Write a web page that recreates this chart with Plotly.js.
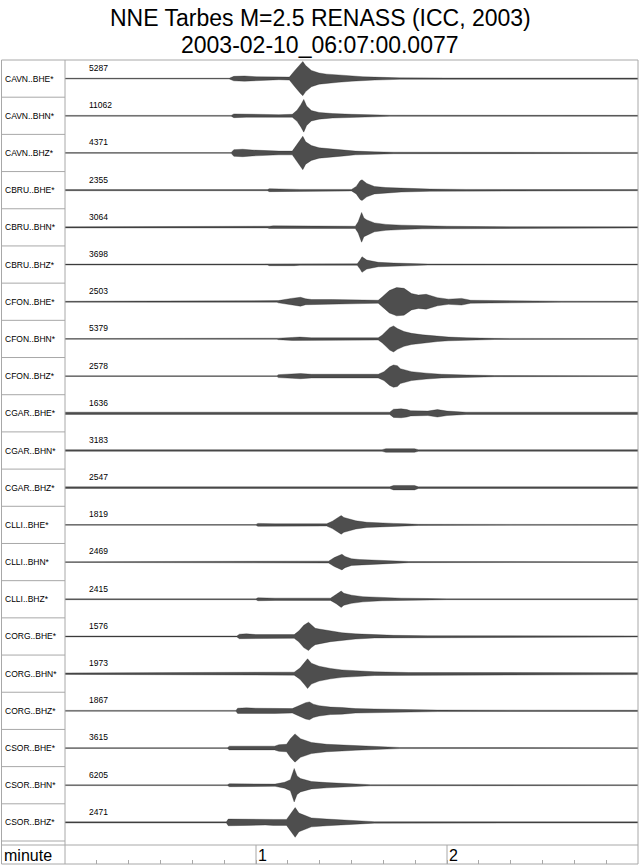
<!DOCTYPE html>
<html>
<head>
<meta charset="utf-8">
<script src="https://cdn.plot.ly/plotly-3.0.1.min.js"></script>
<style>html,body{margin:0;padding:0;background:#fff;}#chart{width:640px;height:866px;}</style>
</head>
<body>
<div id="chart"></div>
<script>
// ---------- data ----------
const titleLine1 = "NNE Tarbes M=2.5 RENASS (ICC, 2003)";
const titleLine2 = "2003-02-10_06:07:00.0077";
const stations = ["CAVN","CAVN","CAVN","CBRU","CBRU","CBRU","CFON","CFON","CFON","CGAR","CGAR","CGAR","CLLI","CLLI","CLLI","CORG","CORG","CORG","CSOR","CSOR","CSOR"];
const channels = ["BHE","BHN","BHZ","BHE","BHN","BHZ","BHE","BHN","BHZ","BHE","BHN","BHZ","BHE","BHN","BHZ","BHE","BHN","BHZ","BHE","BHN","BHZ"];
const maxCounts = [5287,11062,4371,2355,3064,3698,2503,5379,2578,1636,3183,2547,1819,2469,2415,1576,1973,1867,3615,6205,2471];
const timeRange = [0, 3];               // minutes
const majorTicks = [1, 2];
const majorTickLabels = ["1", "2"];
const minorTickStepMin = 10 / 60;       // 10 s
const axisUnit = "minute";

// envelope half-amplitude, [time (min), amplitude (% of trace spacing)]
const CAVN_BHE = [[0,1],[0.86,1],[0.884,6],[0.94,7],[1.0,5],[1.06,5],[1.12,3],[1.175,4],[1.20,20],[1.233,40],[1.245,46],[1.26,35],[1.29,22],[1.33,15],[1.37,12],[1.43,10],[1.5,7],[1.56,5],[1.62,4],[1.75,2],[2.0,1.5],[3.0,1.5]];
const CAVN_BHN = [[0,1],[0.87,1],[0.884,5],[0.95,4],[1.05,4],[1.12,3],[1.19,4],[1.215,15],[1.235,30],[1.25,44],[1.265,26],[1.29,14],[1.33,9],[1.4,6],[1.5,4],[1.6,2.5],[1.7,1.5],[3.0,1.2]];
const CAVN_BHZ = [[0,1],[0.87,1],[0.884,9],[0.93,10],[0.98,8],[1.04,6],[1.12,5],[1.19,5],[1.21,20],[1.235,38],[1.245,45],[1.26,30],[1.29,20],[1.33,14],[1.39,11],[1.46,8],[1.52,5],[1.62,3],[1.72,2],[3.0,1.5]];
const CBRU_BHE = [[0,1.5],[1.06,1.5],[1.07,4],[1.2,3],[1.23,2],[1.5,2],[1.525,10],[1.545,25],[1.555,28],[1.58,18],[1.62,10],[1.68,7],[1.76,5],[1.91,3],[2.1,2],[3.0,1.5]];
const CBRU_BHN = [[0,1.5],[1.06,1.5],[1.07,3],[1.09,4],[1.2,4],[1.22,3],[1.52,3],[1.535,15],[1.553,40],[1.565,25],[1.58,20],[1.62,12],[1.68,8],[1.76,6],[1.87,4],[2.0,3],[2.2,2],[3.0,1.5]];
const CBRU_BHZ = [[0,1.2],[1.06,1.2],[1.07,3],[1.2,3],[1.23,2],[1.53,2],[1.545,12],[1.555,21],[1.58,12],[1.64,6],[1.72,4],[1.81,2.5],[1.9,1.5],[3.0,1.2]];
const CFON_BHE = [[0,1.2],[1.11,1.2],[1.117,3],[1.185,9],[1.233,12],[1.26,8],[1.291,6],[1.40,6],[1.55,5],[1.64,4],[1.659,12],[1.698,30],[1.736,38],[1.775,36],[1.814,22],[1.85,18],[1.891,20],[1.95,11],[2.008,7],[2.076,9],[2.124,4],[2.3,2.5],[2.6,1.5],[3.0,1.2]];
const CFON_BHN = [[0,1],[1.11,1],[1.117,2],[1.19,4],[1.23,5],[1.29,3],[1.64,3],[1.66,10],[1.68,20],[1.70,30],[1.72,35],[1.74,28],[1.775,20],[1.814,15],[1.872,11],[1.95,7],[2.008,5],[2.104,3],[2.25,1.5],[3.0,1]];
const CFON_BHZ = [[0,1],[1.11,1],[1.117,4],[1.19,6],[1.233,7],[1.29,5],[1.64,5],[1.67,12],[1.70,25],[1.72,30],[1.74,28],[1.756,20],[1.814,12],[1.891,8],[1.97,5],[2.104,3],[2.25,1.5],[3.0,1]];
const CGAR_BHE = [[0,3],[1.70,3],[1.72,11],[1.76,12],[1.79,10],[1.81,7],[1.90,6],[1.95,10],[2.0,6],[2.05,4],[2.1,3],[3.0,3]];
const CGAR_BHN = [[0,2.2],[1.66,2.2],[1.68,5],[1.83,5],[1.85,2.2],[3.0,2.2]];
const CGAR_BHZ = [[0,2.2],[1.70,2.2],[1.72,6],[1.83,6],[1.85,2.2],[3.0,2.2]];
const CLLI_BHE = [[0,1],[1.0,1],[1.01,4],[1.1,3],[1.37,3],[1.40,10],[1.43,20],[1.446,25],[1.46,20],[1.485,16],[1.523,11],[1.58,7],[1.64,5],[1.72,4],[1.78,3],[1.85,1.5],[3.0,1]];
const CLLI_BHN = [[0,1],[1.0,1],[1.01,3],[1.1,2.5],[1.38,2.5],[1.41,12],[1.436,18],[1.45,21],[1.466,15],[1.50,9],[1.54,7],[1.62,5],[1.72,3],[1.8,1.5],[3.0,1]];
const CLLI_BHZ = [[0,1.2],[1.0,1.2],[1.01,4],[1.1,3],[1.39,3],[1.42,12],[1.446,22],[1.46,16],[1.50,11],[1.56,7],[1.66,4],[1.76,3],[1.91,2],[2.0,1.2],[3.0,1.2]];
const CORG_BHE = [[0,1.2],[0.90,1.2],[0.913,6],[0.95,7],[1.0,5],[1.1,5],[1.2,5],[1.225,15],[1.25,30],[1.275,38],[1.29,30],[1.31,22],[1.33,20],[1.39,14],[1.45,10],[1.52,7],[1.62,4],[1.72,3],[1.9,2],[3.0,1.5]];
const CORG_BHN = [[0,2],[0.90,2],[0.913,4],[1.0,4],[1.2,4],[1.23,15],[1.255,30],[1.27,40],[1.29,28],[1.33,20],[1.39,14],[1.45,10],[1.52,8],[1.62,5],[1.8,3],[3.0,2.5]];
const CORG_BHZ = [[0,1.2],[0.895,1.2],[0.904,7],[0.95,8],[1.0,7],[1.1,7],[1.19,6],[1.23,15],[1.26,22],[1.28,24],[1.30,18],[1.33,14],[1.39,10],[1.45,9],[1.52,6],[1.62,5],[1.72,4],[1.81,3],[1.95,2],[3.0,1.5]];
const CSOR_BHE = [[0,1],[0.85,1],[0.861,5],[1.0,5],[1.097,5],[1.12,9],[1.16,10],[1.18,25],[1.204,38],[1.233,25],[1.29,15],[1.37,10],[1.45,8],[1.52,6],[1.64,3],[1.75,1.5],[3.0,1]];
const CSOR_BHN = [[0,1],[0.85,1],[0.861,4],[0.95,3],[1.1,3],[1.15,8],[1.18,15],[1.20,45],[1.215,25],[1.233,18],[1.29,10],[1.37,7],[1.45,5],[1.52,3],[1.6,1.5],[3.0,1]];
const CSOR_BHZ = [[0,1.5],[0.845,1.5],[0.855,9],[0.95,8],[1.05,7],[1.09,8],[1.16,8],[1.185,25],[1.205,40],[1.225,25],[1.25,20],[1.29,12],[1.37,9],[1.45,7],[1.52,4],[1.62,2],[3.0,1.5]];

const envelopes = [CAVN_BHE,CAVN_BHN,CAVN_BHZ,CBRU_BHE,CBRU_BHN,CBRU_BHZ,CFON_BHE,CFON_BHN,CFON_BHZ,CGAR_BHE,CGAR_BHN,CGAR_BHZ,CLLI_BHE,CLLI_BHN,CLLI_BHZ,CORG_BHE,CORG_BHN,CORG_BHZ,CSOR_BHE,CSOR_BHN,CSOR_BHZ];

// ---------- layout constants ----------
const W = 640, H = 866;
const mL = 65, mR = 2, mT = 60, mB = 2;
const plotW = W - mL - mR;          // 573
const plotH = H - mT - mB;          // 804
const nRows = stations.length;
const axisRowPx = 19, gapPx = 4;
const rowPx = (plotH - axisRowPx - gapPx) / nRows;
const yBottom = -plotH / rowPx;
const frameColor = "#a8a8a8";
const FONT = "Liberation Sans, Arial, Helvetica, sans-serif";
const px2paperX = p => (p - mL) / plotW;
const px2paperY = p => (H - mB - p) / plotH;

// ---------- traces ----------
const traces = envelopes.map((env, i) => {
  const base = -(i + 0.5);
  const t = env.map(d => d[0]);
  const up = env.map(d => base + d[1] / 100);
  const dn = env.map(d => base - d[1] / 100);
  return {
    type: "scatter", mode: "lines",
    x: t.concat(t.slice().reverse()),
    y: up.concat(dn.slice().reverse()),
    fill: "toself",
    fillcolor: "rgba(10,10,10,0.72)",
    line: {color: "rgba(20,20,20,0.75)", width: 0.4},
    hoverinfo: "skip", showlegend: false
  };
});

// ---------- frame shapes ----------
const leftX = px2paperX(1.5);
const axisTopY = px2paperY(H - mB - axisRowPx);
const shapes = [
  {type: "rect", xref: "paper", yref: "paper", x0: leftX, x1: 1, y0: 0, y1: 1, line: {color: frameColor, width: 1}},
  {type: "line", xref: "paper", yref: "paper", x0: 0, x1: 0, y0: 0, y1: 1, line: {color: frameColor, width: 1}},
  {type: "line", xref: "paper", yref: "paper", x0: leftX, x1: 1, y0: axisTopY, y1: axisTopY, line: {color: frameColor, width: 1}}
];
for (let i = 1; i <= nRows; i++) {
  shapes.push({type: "line", xref: "paper", yref: "y", x0: leftX, x1: 0, y0: -i, y1: -i, line: {color: frameColor, width: 1}});
}
majorTicks.forEach(v => {
  shapes.push({type: "line", xref: "x", yref: "paper", x0: v, x1: v, y0: 0, y1: axisTopY, line: {color: frameColor, width: 1}});
});

// ---------- annotations ----------
const annotations = [
  {text: titleLine1, xref: "paper", yref: "paper", x: px2paperX(W / 2), y: px2paperY(18), xanchor: "center", yanchor: "middle", showarrow: false, font: {family: FONT, size: 23, color: "#000"}},
  {text: titleLine2, xref: "paper", yref: "paper", x: px2paperX(W / 2), y: px2paperY(45), xanchor: "center", yanchor: "middle", showarrow: false, font: {family: FONT, size: 23, color: "#000"}}
];
stations.forEach((s, i) => {
  annotations.push({text: s + ".." + channels[i] + "*", xref: "paper", yref: "y", x: px2paperX(3), y: -(i + 0.5), xanchor: "left", yanchor: "middle", showarrow: false, font: {family: FONT, size: 8.5, color: "#000"}});
  annotations.push({text: String(maxCounts[i]), xref: "paper", yref: "y", x: px2paperX(87), y: -i - 8 / rowPx, xanchor: "left", yanchor: "middle", showarrow: false, font: {family: FONT, size: 8.5, color: "#000"}});
});
const axisLabelY = px2paperY(H - mB - axisRowPx / 2 + 1);
annotations.push({text: axisUnit, xref: "paper", yref: "paper", x: px2paperX(2), y: axisLabelY, xanchor: "left", yanchor: "middle", showarrow: false, font: {family: FONT, size: 16, color: "#000"}});
majorTicks.forEach((v, k) => {
  annotations.push({text: majorTickLabels[k], xref: "x", yref: "paper", x: v, y: axisLabelY, xanchor: "left", yanchor: "middle", xshift: 0, showarrow: false, font: {family: FONT, size: 16, color: "#000"}});
});

const layout = {
  width: W, height: H,
  margin: {l: mL, r: mR, t: mT, b: mB, pad: 0},
  paper_bgcolor: "#fff", plot_bgcolor: "#fff",
  showlegend: false,
  xaxis: {range: timeRange, showgrid: false, zeroline: false, showline: false,
          ticks: "inside", ticklen: 4, tickwidth: 1, tickcolor: frameColor,
          tick0: 0, dtick: minorTickStepMin, showticklabels: false, fixedrange: true},
  yaxis: {range: [yBottom, 0], showgrid: false, zeroline: false, showline: false,
          showticklabels: false, ticks: "", fixedrange: true},
  shapes: shapes,
  annotations: annotations
};

Plotly.newPlot("chart", traces, layout, {staticPlot: true, displayModeBar: false});
</script>
</body>
</html>
